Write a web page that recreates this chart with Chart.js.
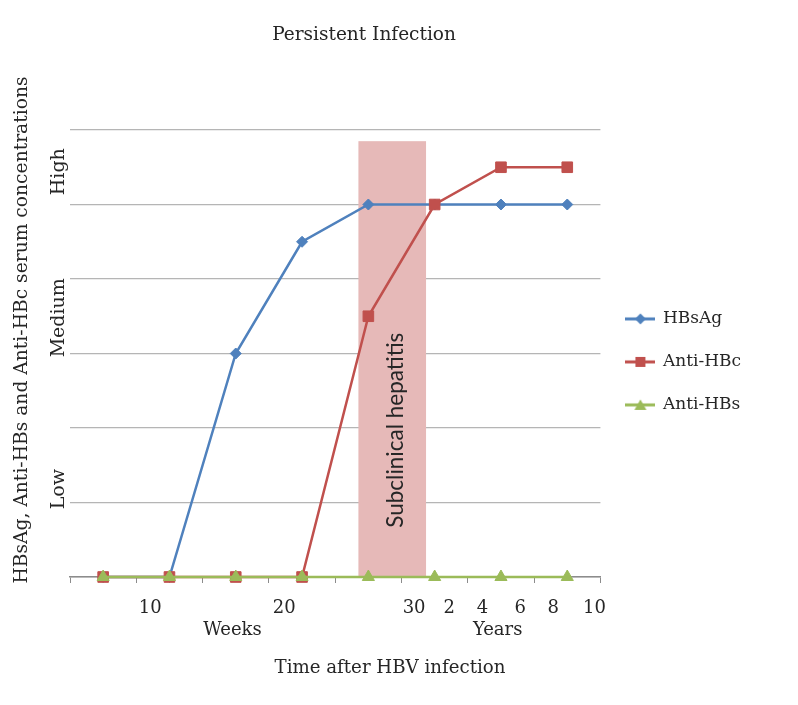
<!DOCTYPE html>
<html>
<head>
<meta charset="utf-8">
<script src="https://cdn.jsdelivr.net/npm/chart.js@4.4.0/dist/chart.umd.min.js"></script>
<style>
  body { margin: 0; background: #fff; }
</style>
</head>
<body>
<canvas id="chart" width="798" height="705"></canvas>
<script>
// time points (weeks, then years) - only used as categories
const categories = ['6w', '11w', '16w', '21w', '26w', '31w', '5y', '9y'];
const hbsag = [0, 0, 3, 4.5, 5, 5, 5, 5];
const antiHBc = [0, 0, 0, 0, 3.5, 5, 5.5, 5.5];
const antiHBs = [0, 0, 0, 0, 0, 0, 0, 0];

// bottom labels, in category units
const xTickPos = [0.71, 2.73, 4.69, 5.22, 5.72, 6.29, 6.79, 7.41];
const xTickLabels = ['10', '20', '30', '2', '4', '6', '8', '10'];
const unitPos = [1.95, 5.95];
const unitLabels = ['Weeks', 'Years'];

// gridlines and concentration levels on the left
const gridValues = [0, 1, 2, 3, 4, 5, 6];
const levelPos = [1.18, 3.48, 5.44];
const levelLabels = ['Low', 'Medium', 'High'];

// subclinical hepatitis period
const bandRange = [3.85, 4.87];
const bandTop = 5.85;
const bandLabel = 'Subclinical hepatitis';

const SERIF = '"DejaVu Serif", serif';
const colors = ['#4F81BD', '#C0504D', '#9BBB59'];
const shapes = ['rectRot', 'rect', 'triangle'];

function legendMarker(color, shape) {
    const c = document.createElement('canvas');
    c.width = 30;
    c.height = 14;
    const g = c.getContext('2d');
    g.strokeStyle = color;
    g.fillStyle = color;
    g.lineWidth = 3;
    g.beginPath();
    g.moveTo(0, 7);
    g.lineTo(30, 7);
    g.stroke();
    g.beginPath();
    if (shape === 'rectRot') {
        g.moveTo(15, 1.5); g.lineTo(20.5, 7); g.lineTo(15, 12.5); g.lineTo(9.5, 7);
    } else if (shape === 'rect') {
        g.rect(10, 2, 10, 10);
    } else {
        g.moveTo(15, 1.5); g.lineTo(21, 12); g.lineTo(9, 12);
    }
    g.closePath();
    g.fill();
    return c;
}
const markers = colors.map((c, i) => legendMarker(c, shapes[i]));

const extras = {
    id: 'extras',
    beforeDatasetsDraw(chart) {
        const {ctx, scales} = chart;
        const x2 = scales.x2, y = scales.y;
        const l = x2.getPixelForValue(bandRange[0]);
        const r = x2.getPixelForValue(bandRange[1]);
        const t = y.getPixelForValue(bandTop);
        const b = y.getPixelForValue(0);
        ctx.save();
        ctx.fillStyle = '#E6B9B8';
        ctx.fillRect(l, t, r - l, b - t);
        ctx.translate((l + r) / 2 + 4, y.getPixelForValue(1.97));
        ctx.rotate(-Math.PI / 2);
        ctx.font = '22.5px Lato';
        ctx.fillStyle = '#262626';
        ctx.textAlign = 'center';
        ctx.textBaseline = 'middle';
        ctx.fillText(bandLabel, 0, 0);
        ctx.restore();
    },
    afterDraw(chart) {
        const ctx = chart.ctx;
        ctx.save();
        ctx.fillStyle = '#262626';
        ctx.textAlign = 'center';
        ctx.textBaseline = 'middle';
        ctx.font = '18.5px ' + SERIF;
        ctx.fillText('Persistent Infection', 364, 35);
        ctx.font = '18.2px ' + SERIF;
        ctx.fillText('Time after HBV infection', 390, 668);
        ctx.translate(22, 330);
        ctx.rotate(-Math.PI / 2);
        ctx.font = '18.7px ' + SERIF;
        ctx.fillText('HBsAg, Anti-HBs and Anti-HBc serum concentrations', 0, 0);
        ctx.restore();
    }
};

function makeSet(label, data, i, order, radius) {
    return {
        label: label,
        data: data,
        borderColor: colors[i],
        backgroundColor: colors[i],
        borderWidth: 2.5,
        pointStyle: shapes[i],
        pointRadius: radius,
        pointBorderWidth: 1,
        tension: 0,
        clip: false,
        order: order
    };
}

new Chart(document.getElementById('chart'), {
    type: 'line',
    data: {
        labels: categories,
        datasets: [
            makeSet('HBsAg', hbsag, 0, 3, 5.5),
            makeSet('Anti-HBc', antiHBc, 1, 2, 7.5),
            makeSet('Anti-HBs', antiHBs, 2, 1, 7)
        ]
    },
    options: {
        responsive: false,
        animation: false,
        layout: {
            padding: {top: 130, left: 0, right: 47, bottom: 62}
        },
        plugins: {
            tooltip: {enabled: false},
            legend: {
                position: 'right',
                align: 'start',
                // blank title only pushes the entries down to the middle
                title: {
                    display: true,
                    text: ' ',
                    color: 'rgba(0,0,0,0)',
                    font: {size: 12, lineHeight: 1.2},
                    padding: {top: 140, bottom: 0}
                },
                labels: {
                    usePointStyle: true,
                    pointStyleWidth: 28,
                    padding: 26,
                    color: '#262626',
                    font: {family: SERIF, size: 17},
                    generateLabels(chart) {
                        const items = Chart.defaults.plugins.legend.labels.generateLabels(chart);
                        items.forEach(it => { it.pointStyle = markers[it.datasetIndex]; });
                        return items;
                    },
                    sort: (a, b) => a.datasetIndex - b.datasetIndex
                }
            }
        },
        scales: {
            x: {
                type: 'category',
                offset: true,
                weight: 0,
                ticks: {display: false},
                grid: {
                    offset: true,
                    drawOnChartArea: false,
                    drawTicks: true,
                    tickLength: 6,
                    color: '#8c8c8c'
                },
                border: {color: '#8c8c8c', width: 1.5},
                afterFit(s) { s.height = 6; }
            },
            x2: {
                type: 'linear',
                position: 'bottom',
                weight: 1,
                min: -0.5,
                max: 7.5,
                grid: {display: false, drawTicks: false},
                border: {display: false},
                afterBuildTicks(s) {
                    s.ticks = xTickPos.concat(unitPos).map(v => ({value: v}));
                },
                ticks: {
                    autoSkip: false,
                    maxRotation: 0,
                    padding: 15,
                    color: '#262626',
                    font: {family: SERIF, size: 18, lineHeight: 1.2},
                    callback(value, index) {
                        if (index < xTickLabels.length) return xTickLabels[index];
                        return ['', unitLabels[index - xTickLabels.length]];
                    }
                },
                afterFit(s) { s.height = 60; }
            },
            y: {
                min: 0,
                max: 6,
                afterBuildTicks(s) {
                    s.ticks = gridValues.concat(levelPos).map(v => ({value: v}));
                },
                ticks: {
                    autoSkip: false,
                    minRotation: 90,
                    maxRotation: 90,
                    crossAlign: 'center',
                    padding: -29,
                    color: '#262626',
                    font: {family: SERIF, size: 19},
                    callback(value, index) {
                        const k = index - gridValues.length;
                        return k >= 0 ? levelLabels[k] : '';
                    }
                },
                grid: {
                    color: c => (c.index < gridValues.length ? '#b5b5b5' : 'rgba(0,0,0,0)'),
                    lineWidth: 1.3,
                    drawTicks: false
                },
                border: {display: false},
                afterFit(s) { s.width = 70; }
            }
        }
    },
    plugins: [extras]
});
</script>
</body>
</html>
